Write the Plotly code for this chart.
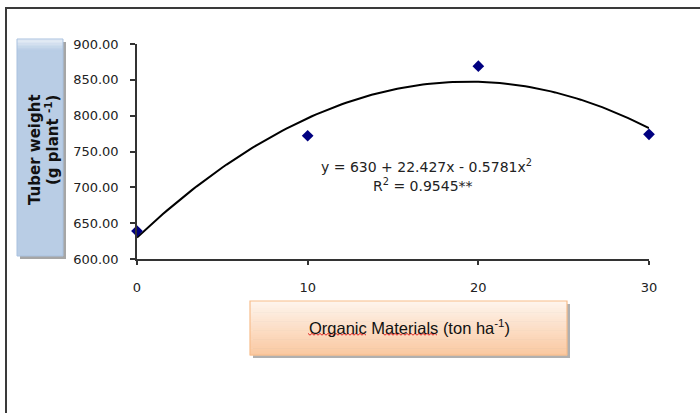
import plotly.graph_objects as go
import numpy as np

# ---- data ----
organic_materials = [0, 10, 20, 30]
tuber_weight = [639, 772, 869, 774]
trend_coeffs = [630, 22.427, -0.5781]  # y = a + b x + c x^2 (from chart equation)
y_ticks = [600, 650, 700, 750, 800, 850, 900]
y_tick_labels = ["600.00", "650.00", "700.00", "750.00", "800.00", "850.00", "900.00"]
x_ticks = [0, 10, 20, 30]
x_tick_labels = ["0", "10", "20", "30"]
equation_text = "y = 630 + 22.427x - 0.5781x<sup>2</sup>"
r2_text = "R<sup>2</sup> = 0.9545**"
y_title_lines = ["Tuber weight", "(g plant <sup>-1</sup>)"]
x_title = "Organic Materials (ton ha<sup>-1</sup>)"

W, H = 700, 413
L, R, T, B = 137, 649, 44, 259  # plot area in pixels

def px(x):
    return (x - L) / (R - L)

def py(y):
    return (B - y) / (B - T)

xs = np.linspace(0, 30, 121)
trend = trend_coeffs[0] + trend_coeffs[1] * xs + trend_coeffs[2] * xs ** 2

fig = go.Figure()
fig.add_trace(go.Scatter(x=xs, y=trend, mode="lines",
                         line=dict(color="black", width=2), hoverinfo="skip",
                         cliponaxis=False, showlegend=False))
fig.add_trace(go.Scatter(x=organic_materials, y=tuber_weight, mode="markers",
                         marker=dict(symbol="diamond", size=9, color="#000080"),
                         cliponaxis=False, showlegend=False))

shapes = []

def rect(x0, y0, x1, y1, fill, line=None, lw=0):
    shapes.append(dict(type="rect", xref="paper", yref="paper",
                       x0=px(x0), x1=px(x1), y0=py(y1), y1=py(y0),
                       fillcolor=fill, line=dict(color=line or fill, width=lw),
                       layer="below"))

def lerp(c0, c1, t):
    return "#%02x%02x%02x" % tuple(int(round(a + (b - a) * t)) for a, b in zip(c0, c1))

# outer frame
shapes.append(dict(type="rect", xref="paper", yref="paper",
                   x0=px(6), x1=px(760), y0=py(480), y1=py(8),
                   line=dict(color="#3a3a3a", width=2), fillcolor="rgba(0,0,0,0)",
                   layer="below"))

# y-title box (blue) with shadow
rect(20, 42, 66, 259, "#a6a6a6")
rect(17, 39, 63, 256, "#b9cde5")
top_c, bot_c = (0xe8, 0xef, 0xf7), (0xb9, 0xcd, 0xe5)
for i in range(8):
    t = i / 7
    rect(17, 39 + i * 1.5, 63, 39 + (i + 1) * 1.5 + 0.3, lerp(top_c, bot_c, t))
shapes.append(dict(type="rect", xref="paper", yref="paper",
                   x0=px(17), x1=px(63), y0=py(256), y1=py(39),
                   line=dict(color="#a9c1df", width=1), fillcolor="rgba(0,0,0,0)",
                   layer="below"))

# x-title box (peach) with shadow
rect(253, 304, 570, 358, "#b0b0b0")
n = 24
top_c, bot_c = (0xfe, 0xf4, 0xec), (0xfa, 0xc9, 0xa2)
x0b, x1b, y0b, y1b = 250, 567, 301, 355
for i in range(n):
    t = i / (n - 1)
    rect(x0b, y0b + (y1b - y0b) * i / n, x1b, y0b + (y1b - y0b) * (i + 1) / n + 0.5,
         lerp(top_c, bot_c, t))
shapes.append(dict(type="rect", xref="paper", yref="paper",
                   x0=px(x0b), x1=px(x1b), y0=py(y1b), y1=py(y0b),
                   line=dict(color="#f7bd8c", width=1.2), fillcolor="rgba(0,0,0,0)",
                   layer="below"))

# red spell-check squiggles
def squiggle(xa, xb, yy):
    pts = []
    x = xa
    k = 0
    while x <= xb:
        pts.append((px(x), py(yy + (1.2 if k % 2 else -0.6))))
        x += 2
        k += 1
    path = "M " + " L ".join("%.5f,%.5f" % p for p in pts)
    shapes.append(dict(type="path", xref="paper", yref="paper", path=path,
                       line=dict(color="#e02020", width=1), layer="above"))

squiggle(308, 367, 334)
squiggle(383, 437, 334)

annotations = [
    dict(text=equation_text, x=px(426), y=py(166), xref="paper", yref="paper",
         showarrow=False, xanchor="center", yanchor="middle",
         font=dict(family="DejaVu Sans", size=14, color="#222222")),
    dict(text=r2_text, x=px(423), y=py(185), xref="paper", yref="paper",
         showarrow=False, xanchor="center", yanchor="middle",
         font=dict(family="DejaVu Sans", size=14, color="#222222")),
    dict(text=x_title, x=px(409), y=py(327), xref="paper", yref="paper",
         showarrow=False, xanchor="center", yanchor="middle",
         font=dict(family="Liberation Sans, Arial", size=16.5, color="#111111")),
    dict(text=y_title_lines[0], x=px(35), y=py(150), xref="paper", yref="paper",
         showarrow=False, textangle=-90, xanchor="center", yanchor="middle",
         font=dict(family="DejaVu Sans", size=15, color="#111111", weight="bold")),
    dict(text=y_title_lines[1], x=px(52), y=py(140), xref="paper", yref="paper",
         showarrow=False, textangle=-90, xanchor="center", yanchor="middle",
         font=dict(family="DejaVu Sans", size=15, color="#111111", weight="bold")),
]

fig.update_layout(
    width=W, height=H,
    margin=dict(l=L, r=W - R, t=T, b=H - B),
    paper_bgcolor="white", plot_bgcolor="white",
    shapes=shapes, annotations=annotations,
    xaxis=dict(range=[0, 30], tickvals=x_ticks, ticktext=x_tick_labels,
               showgrid=False, zeroline=False, showline=True, linecolor="#333333",
               linewidth=1.5, ticks="outside", ticklen=4, tickcolor="#333333",
               tickwidth=1.5, ticklabelstandoff=12,
               tickfont=dict(family="DejaVu Sans", size=13, color="#222222")),
    yaxis=dict(range=[600, 900], tickvals=y_ticks, ticktext=y_tick_labels,
               showgrid=False, zeroline=False, showline=True, linecolor="#333333",
               linewidth=1.5, ticks="outside", ticklen=5, tickcolor="#333333",
               tickwidth=1.5, ticklabelstandoff=9,
               tickfont=dict(family="DejaVu Sans", size=13, color="#222222")),
)

fig.write_html("out.html", config={"displayModeBar": False},
               post_script="document.body.style.margin='0';")
